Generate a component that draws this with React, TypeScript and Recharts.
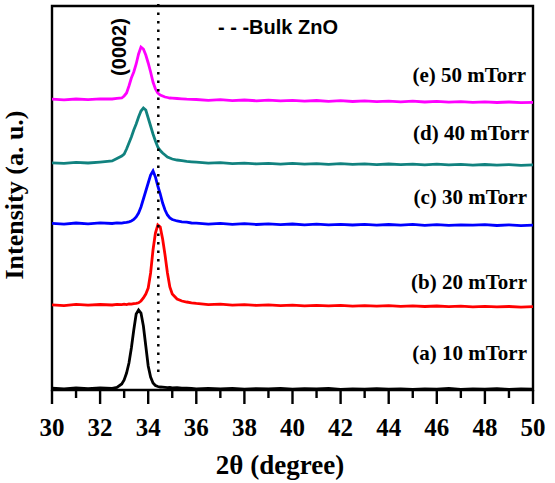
import React from 'react';
import { LineChart, Line, XAxis, YAxis, ReferenceLine, ReferenceArea } from 'recharts';

// 2θ sampling (degrees), denser round the (0002) peak
const twoTheta = [
  30, 30.5, 31, 31.5, 32, 32.5, 32.7, 32.9, 33, 33.1, 33.2, 33.3, 33.4, 33.5, 33.6, 33.7, 33.8, 33.9, 34,
  34.1, 34.2, 34.3, 34.4, 34.5, 34.6, 34.7, 34.8, 34.9, 35, 35.2, 35.4, 35.6, 35.8, 36, 36.5, 37, 37.5, 38,
  38.5, 39, 39.5, 40, 40.5, 41, 41.5, 42, 42.5, 43, 43.5, 44, 44.5, 45, 45.5, 46, 46.5, 47, 47.5, 48, 48.5,
  49, 49.5, 50,
];

// intensities (a. u.), already offset as stacked in the figure
const mTorr10 = [
  1.8, 1.2, 2.0, 1.4, 2.1, 1.6, 2.5, 6, 10, 17, 27, 42, 60, 76, 80, 77, 64, 44, 24, 13, 7, 4.5, 3.5, 3, 2.8,
  2.6, 2.4, 2.6, 2.2, 2.3, 1.9, 1.8, 1.6, 1.2, 1.7, 1.0, 1.5, 0.9, 1.4, 1.1, 1.6, 0.8, 1.3, 1.0, 1.5, 0.7,
  1.2, 0.9, 1.4, 0.8, 1.1, 0.6, 1.2, 0.9, 1.5, 0.7, 1.0, 0.8, 1.3, 0.6, 1.0, 0.8,
];
const mTorr20 = [
  85.2, 84.4, 85.6, 84.8, 85.5, 85.0, 85.7, 85.3, 85.8, 85.4, 86.0, 85.8, 86.4, 86.6, 87.2, 89, 92, 96, 102,
  117, 140, 157, 165, 163, 151, 135, 117, 103, 96, 91, 89, 88, 87.2, 86.6, 85.4, 85.8, 84.9, 85.3, 84.6,
  85.1, 84.4, 84.9, 84.2, 84.7, 84.1, 84.6, 83.9, 84.4, 83.8, 84.3, 83.6, 84.1, 83.5, 84.0, 83.3, 83.8,
  83.2, 83.7, 83.1, 83.5, 82.9, 83.3,
];
const mTorr30 = [
  166.6, 165.9, 167.0, 166.2, 167.1, 166.5, 167.2, 166.9, 167.4, 167.6, 168.2, 169, 170.5, 173, 177, 183,
  191, 199, 207, 215, 219, 213, 204, 196, 187, 180, 175, 172, 170.5, 169, 168.2, 167.8, 167.0, 166.8, 165.9,
  166.6, 165.7, 166.3, 165.5, 166.1, 165.4, 166.0, 165.2, 165.8, 165.1, 165.7, 165.0, 165.6, 164.9, 165.5,
  164.8, 165.6, 164.7, 165.3, 164.6, 165.2, 164.9, 165.4, 164.5, 165.1, 164.4, 164.8,
];
const mTorr40 = [
  227.2, 226.6, 227.6, 227.0, 227.9, 229.0, 231.5, 234, 236, 241, 247, 253, 260, 266, 273, 279, 282, 280,
  272, 264, 256, 249, 243, 239.5, 237, 235, 233, 232, 231, 230, 229.3, 228.6, 228.2, 227.8, 226.8, 227.3,
  226.3, 226.9, 226.1, 226.7, 225.9, 226.6, 225.8, 226.4, 225.7, 226.3, 225.6, 226.2, 225.4, 226.0, 225.3,
  225.9, 225.2, 225.8, 225.1, 225.6, 224.9, 225.5, 224.8, 225.4, 224.7, 225.1,
];
const mTorr50 = [
  290.8, 290.1, 291.0, 290.4, 291.2, 291.0, 291.6, 292, 294, 297, 304, 312, 318, 326, 336, 343, 341, 335,
  327, 318, 308, 301, 297, 295, 294, 293, 292.5, 292, 291.8, 291.5, 291.2, 290.8, 290.6, 290.5, 289.6, 290.3,
  289.4, 290.0, 289.2, 289.9, 289.1, 289.7, 288.9, 289.5, 288.7, 289.3, 288.5, 289.1, 288.3, 288.9, 288.2,
  288.8, 288.0, 288.6, 287.9, 288.4, 287.7, 288.2, 287.5, 288.0, 287.3, 287.7,
];

const xTicks = [30, 31, 32, 33, 34, 35, 36, 37, 38, 39, 40, 41, 42, 43, 44, 45, 46, 47, 48, 49, 50];
const bulkZnO = 34.42;

const data = twoTheta.map((t, i) => ({
  t,
  a: mTorr10[i],
  b: mTorr20[i],
  c: mTorr30[i],
  d: mTorr40[i],
  e: mTorr50[i],
}));

const serif = '"Liberation Serif", "Times New Roman", serif';
const sans = '"Liberation Sans", Arial, sans-serif';

const XTick = (props: any) => {
  const { x, y, payload } = props;
  const major = payload.value % 2 === 0;
  return (
    <g>
      <line x1={x} x2={x} y1={y} y2={y + (major ? 14 : 8)} stroke="#000" strokeWidth={2.4} />
      {major && (
        <text
          x={x}
          y={y + 37}
          textAnchor="middle"
          dominantBaseline="central"
          fontFamily={serif}
          fontWeight="bold"
          fontSize={25}
          fill="#000"
        >
          {payload.value}
        </text>
      )}
    </g>
  );
};

const curveLabel = {
  fontFamily: serif,
  fontWeight: 'bold' as const,
  fontSize: 21,
  fill: '#000',
};

export default function App() {
  return (
    <div style={{ position: 'absolute', left: 0, top: 0, background: '#fff' }}>
      <LineChart width={555} height={483} data={data} margin={{ top: 6, right: 22, bottom: 63, left: 52 }}>
        <XAxis
          dataKey="t"
          type="number"
          domain={[30, 50]}
          ticks={xTicks}
          interval={0}
          height={30}
          tickSize={0}
          tickMargin={0}
          axisLine={false}
          tickLine={false}
          tick={<XTick />}
        />
        <YAxis hide type="number" domain={[0, 384]} />
        <ReferenceArea
          x1={30}
          x2={50}
          y1={0}
          y2={384}
          fill="none"
          stroke="#000"
          strokeWidth={2.4}
          ifOverflow="visible"
        />
        <Line dataKey="a" stroke="#000000" strokeWidth={2.8} dot={false} isAnimationActive={false} />
        <Line dataKey="b" stroke="#ff0000" strokeWidth={2.8} dot={false} isAnimationActive={false} />
        <Line dataKey="c" stroke="#0000ff" strokeWidth={2.8} dot={false} isAnimationActive={false} />
        <Line dataKey="d" stroke="#11827f" strokeWidth={2.8} dot={false} isAnimationActive={false} />
        <Line dataKey="e" stroke="#ff00ff" strokeWidth={2.8} dot={false} isAnimationActive={false} />
        <ReferenceLine
          segment={[
            { x: bulkZnO, y: 18 },
            { x: bulkZnO, y: 386 },
          ]}
          stroke="#000"
          strokeWidth={2.5}
          strokeDasharray="2.5 6"
          ifOverflow="visible"
        />
        <text x={218} y={27} dominantBaseline="central" fontFamily={sans} fontWeight="bold" fontSize={20} fill="#000">
          - - -Bulk ZnO
        </text>
        <text
          transform="translate(119,47) rotate(-90)"
          textAnchor="middle"
          dominantBaseline="central"
          fontFamily={sans}
          fontWeight="bold"
          fontSize={20}
          fill="#000"
        >
          (0002)
        </text>
        <text x={526} y={75} textAnchor="end" dominantBaseline="central" {...curveLabel}>
          (e) 50 mTorr
        </text>
        <text x={529} y={133} textAnchor="end" dominantBaseline="central" {...curveLabel}>
          (d) 40 mTorr
        </text>
        <text x={527} y={197} textAnchor="end" dominantBaseline="central" {...curveLabel}>
          (c) 30 mTorr
        </text>
        <text x={527} y={282} textAnchor="end" dominantBaseline="central" {...curveLabel}>
          (b) 20 mTorr
        </text>
        <text x={527} y={353} textAnchor="end" dominantBaseline="central" {...curveLabel}>
          (a) 10 mTorr
        </text>
        <text x={280} y={465} textAnchor="middle" dominantBaseline="central" fontFamily={serif} fontWeight="bold" fontSize={27} fill="#000">
          2θ (degree)
        </text>
        <text
          transform="translate(14,195) rotate(-90)"
          textAnchor="middle"
          dominantBaseline="central"
          fontFamily={serif}
          fontWeight="bold"
          fontSize={26}
          fill="#000"
        >
          Intensity (a. u.)
        </text>
      </LineChart>
    </div>
  );
}
